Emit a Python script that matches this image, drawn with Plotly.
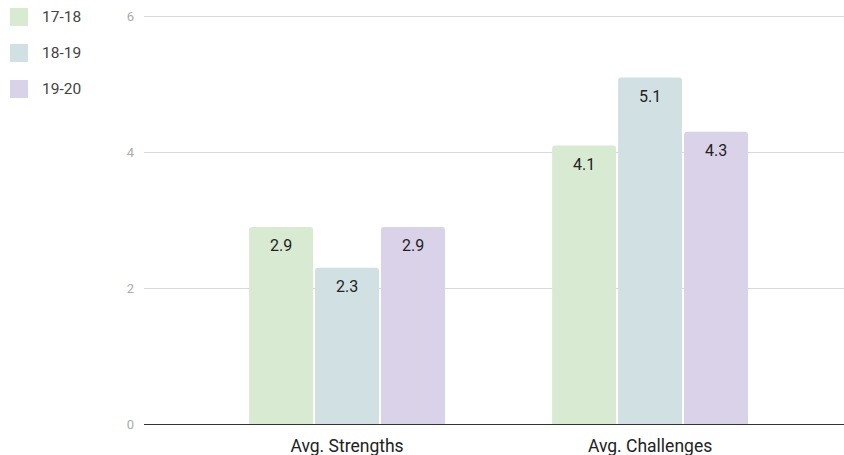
import plotly.graph_objects as go

categories = ["Avg. Strengths", "Avg. Challenges"]
series_names = ["17-18", "18-19", "19-20"]
values_1718 = [2.9, 4.1]
values_1819 = [2.3, 5.1]
values_1920 = [2.9, 4.3]
y_ticks = [0, 2, 4, 6]

colors = ["#d9ead3", "#d0e0e3", "#d9d2e9"]
all_values = [values_1718, values_1819, values_1920]

W, H = 844, 455
ML, MR, MT, MB = 144, 0, 15, 31
PW, PH = W - ML - MR, H - MT - MB

fig = go.Figure()
for i, (name, vals) in enumerate(zip(series_names, all_values)):
    fig.add_trace(go.Bar(
        x=categories, y=vals, name=name,
        marker=dict(color=colors[i], cornerradius=3, line=dict(width=0)),
        text=[str(v) for v in vals],
        textposition="none",
        offsetgroup=str(i),
        showlegend=False,
    ))

# value labels placed at each bar top via the data axes
bar_slot = (1 - 0.347) / 3
annotations = []
for i, vals in enumerate(all_values):
    for j, v in enumerate(vals):
        annotations.append(dict(
            x=j + (i - 1) * bar_slot, y=v, xref="x", yref="y",
            text=str(v), showarrow=False, yanchor="middle", yshift=-19,
            font=dict(family="Roboto", size=16, color="#222222"),
        ))

# manual legend
shapes = []
for i, name in enumerate(series_names):
    cy = 17 + 36 * i
    x0 = (10 - ML) / PW
    x1 = (28 - ML) / PW
    y0 = (H - MB - (cy + 9)) / PH
    y1 = (H - MB - (cy - 9)) / PH
    shapes.append(dict(type="rect", xref="paper", yref="paper", x0=x0, x1=x1,
                       y0=y0, y1=y1, fillcolor=colors[i], line=dict(width=0)))
    annotations.append(dict(
        x=(40 - ML) / PW, y=(H - MB - cy) / PH, xref="paper", yref="paper",
        text=name, showarrow=False, xanchor="left", yanchor="middle",
        font=dict(family="Roboto", size=15.5, color="#444444"),
    ))

fig.update_layout(
    width=W, height=H,
    margin=dict(l=ML, r=MR, t=MT, b=MB),
    paper_bgcolor="white", plot_bgcolor="white",
    barmode="group", bargap=0.347, bargroupgap=0.03,
    font=dict(family="Roboto", color="#222222"),
    showlegend=False,
    annotations=annotations, shapes=shapes,
    xaxis=dict(range=[-0.67, 1.64], showgrid=False, showline=False, zeroline=False,
               ticks="", ticklabelstandoff=9,
               tickfont=dict(family="Roboto", size=17.5, color="#222222")),
    yaxis=dict(range=[0, 6.02], tickvals=y_ticks, showgrid=True, gridcolor="#d9d9d9",
               gridwidth=1, zeroline=True, zerolinecolor="#333333", zerolinewidth=1.3,
               showline=False, ticks="", ticklabelstandoff=9,
               tickfont=dict(family="Roboto", size=13, color="#aaaaaa")),
)
fig.write_html("out.html")
